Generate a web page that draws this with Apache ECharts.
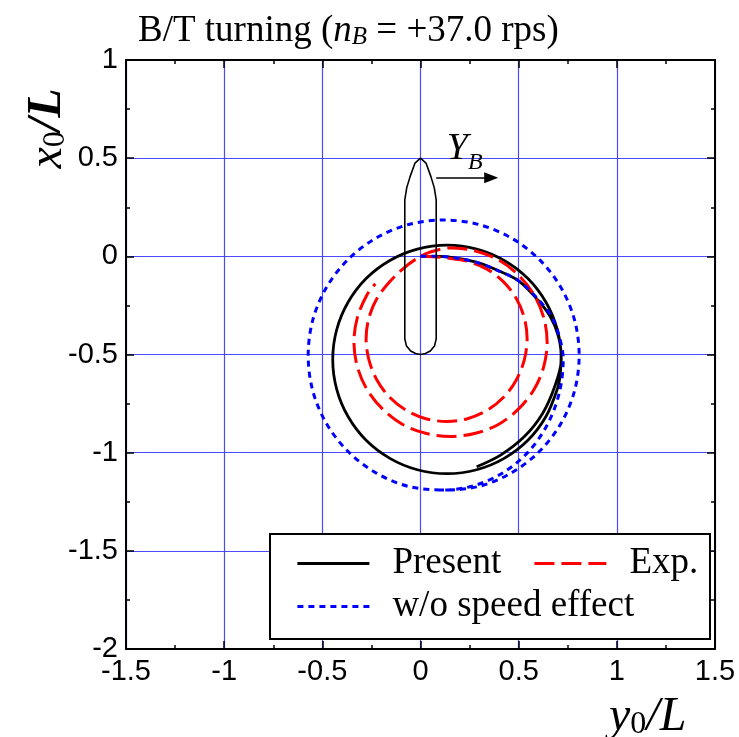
<!DOCTYPE html>
<html><head><meta charset="utf-8">
<style>html,body{margin:0;padding:0;background:#fff}#c{width:739px;height:737px}</style>
<script src="https://cdn.jsdelivr.net/npm/echarts@6/dist/echarts.min.js"></script>
</head><body><div id="c"></div>
<script>
const presentPath = [[0,0],[.1,0],[.2,-.012],[.3,-.035],[.4,-.075],[.5,-.125],[.6,-.225],[.66,-.306],[.7,-.4],[.716,-.5],[.712,-.6],[.697,-.676],[.639,-.816],[.547,-.937],[.426,-1.029],[.286,-1.087],[.135,-1.107],[-.016,-1.087],[-.156,-1.029],[-.277,-.937],[-.369,-.816],[-.427,-.676],[-.447,-.525],[-.427,-.374],[-.369,-.234],[-.277,-.113],[-.156,-.021],[-.016,.037],[.135,.057],[.286,.037],[.426,-.021],[.547,-.113],[.639,-.234],[.697,-.374],[.717,-.525],[.684,-.662],[.622,-.8],[.529,-.918],[.41,-1.011],[.286,-1.072]];
const expPath = [[0,0],[.06,-.002],[.133,-.008],[.239,-.025],[.338,-.065],[.423,-.13],[.488,-.215],[.529,-.314],[.543,-.42],[.529,-.526],[.488,-.63],[.423,-.718],[.338,-.785],[.239,-.827],[.133,-.841],[.027,-.827],[-.072,-.785],[-.157,-.718],[-.222,-.63],[-.263,-.526],[-.277,-.42],[-.263,-.314],[-.222,-.215],[-.157,-.13],[-.085,-.06],[-.02,-.012],[.05,.022],[.153,.043],[.28,.027],[.399,-.019],[.501,-.098],[.579,-.197],[.628,-.313],[.645,-.437],[.628,-.561],[.579,-.677],[.501,-.776],[.399,-.855],[.28,-.901],[.153,-.918],[.026,-.901],[-.093,-.855],[-.195,-.776],[-.273,-.677],[-.322,-.561],[-.339,-.437],[-.322,-.313],[-.273,-.197],[-.23,-.14]];
const noSpeedPath = [[0,0],[.1,0],[.2,-.012],[.3,-.035],[.4,-.075],[.5,-.125],[.6,-.22],[.67,-.31],[.71,-.42],[.727,-.527],[.706,-.699],[.645,-.859],[.549,-.996],[.422,-1.101],[.276,-1.167],[.118,-1.19],[-.061,-1.172],[-.227,-1.103],[-.37,-.993],[-.48,-.85],[-.549,-.684],[-.572,-.505],[-.549,-.326],[-.48,-.16],[-.37,-.017],[-.227,.093],[-.061,.162],[.118,.185],[.297,.162],[.463,.093],[.606,-.017],[.716,-.16],[.785,-.326],[.808,-.505],[.785,-.684],[.716,-.85],[.606,-.993],[.463,-1.103],[.297,-1.172],[.118,-1.19],[.065,-1.189]];
const hullOutline = [[0,.5],[-.028,.475],[-.053,.406],[-.07,.35],[-.08,.288],[-.08,-.42],[-.072,-.455],[-.05,-.482],[-.025,-.495],[0,-.5],[.025,-.495],[.05,-.482],[.072,-.455],[.08,-.42],[.08,.288],[.07,.35],[.053,.406],[.028,.475],[0,.5]];
const arrowFrom = [.08,.4], arrowTo = [.36,.4];
const seriesNames = ['Present','Exp.','w/o speed effect'];
const serif = '"Liberation Serif","Times New Roman",serif';
const sans = '"Liberation Sans",Arial,sans-serif';
const axisCommon = {type:'value',axisLine:{onZero:false,lineStyle:{color:'#000',width:2}},
  axisTick:{inside:true,length:8,lineStyle:{color:'#000',width:1.5}},
  minorTick:{show:true,splitNumber:2,length:4,lineStyle:{color:'#000',width:1.5}},
  minorSplitLine:{show:false}};
const lbl = {color:'#000',fontFamily:sans,fontSize:29,margin:8,showMinLabel:true,showMaxLabel:true,hideOverlap:false};
const grid = {show:true,lineStyle:{color:'#4a4aff',width:1.2}};
const xR = {min:-1.5,max:1.5,interval:.5}, yR = {min:-2,max:1,interval:.5};
const legendRow = (name,left,top)=>({data:[name],left,top,orient:'horizontal',itemWidth:72,itemHeight:20,itemGap:0,padding:0,selectedMode:false,
  itemStyle:{opacity:0},lineStyle:{width:2.8},
  textStyle:{fontFamily:serif,fontSize:37,color:'#000',padding:[0,0,0,18]}});
const chart = echarts.init(document.getElementById('c'),null,{renderer:'canvas'});
chart.setOption({animation:false,backgroundColor:'#fff',
  title:{left:138,top:13,padding:0,text:'B/T turning ({i|n}{s|B} = +37.0 rps)',
    textStyle:{fontFamily:serif,fontSize:37,fontWeight:'normal',color:'#000',
      rich:{i:{fontFamily:serif,fontSize:37,fontStyle:'italic',color:'#000'},
            s:{fontFamily:serif,fontSize:25,fontStyle:'italic',color:'#000',padding:[12,0,0,0]}}}},
  grid:{left:126,right:24,top:60,bottom:88,containLabel:false,outerBoundsMode:'none'},
  xAxis:[{...axisCommon,...xR,position:'bottom',axisLabel:lbl,splitLine:grid,
      name:'{i|y}{s|0}{i|/L}',nameLocation:'end',nameGap:-106,nameMoveOverlap:false,
      nameTextStyle:{align:'left',verticalAlign:'top',padding:[44,0,0,0],
        rich:{i:{fontFamily:serif,fontSize:48,fontStyle:'italic',color:'#000'},s:{fontFamily:serif,fontSize:32,color:'#000',padding:[16,0,0,0]}}}},
    {...axisCommon,...xR,position:'top',axisLabel:{show:false},splitLine:{show:false}}],
  yAxis:[{...axisCommon,...yR,position:'left',axisLabel:{...lbl,padding:[3,0,0,0]},splitLine:grid,
      name:'{i|x}{s|0}{b|/L}',nameLocation:'middle',nameGap:78,nameRotate:90,nameMoveOverlap:false,
      nameTextStyle:{align:'center',verticalAlign:'middle',padding:[0,0,0,452],
        rich:{i:{fontFamily:serif,fontSize:48,fontStyle:'italic',color:'#000'},b:{fontFamily:serif,fontSize:48,fontStyle:'italic',fontWeight:'bold',color:'#000'},s:{fontFamily:serif,fontSize:32,color:'#000',padding:[16,0,0,0]}}}},
    {...axisCommon,...yR,position:'right',axisLabel:{show:false},splitLine:{show:false}}],
  legend:[legendRow(seriesNames[0],296,545),legendRow(seriesNames[1],533,545),legendRow(seriesNames[2],296,588)],
  graphic:[{type:'rect',z:3,shape:{x:270,y:534,width:440,height:105},style:{fill:'#fff',stroke:'#000',lineWidth:2}}],
  series:[
    {name:seriesNames[0],type:'line',data:presentPath,smooth:.33,symbol:'none',lineStyle:{color:'#000',width:2.8},itemStyle:{color:'#000'},z:2},
    {name:seriesNames[1],type:'line',data:expPath,smooth:.33,symbol:'none',lineStyle:{color:'#ff0000',width:3,type:[20,7]},itemStyle:{color:'#ff0000'},z:2},
    {name:seriesNames[2],type:'line',data:noSpeedPath,smooth:.33,symbol:'none',lineStyle:{color:'#0000ff',width:3,type:[6,5]},itemStyle:{color:'#0000ff'},z:2},
    {name:'Hull',type:'line',data:hullOutline,smooth:false,symbol:'none',lineStyle:{color:'#000',width:1.6},z:2,
      markLine:{silent:true,symbol:['none','triangle'],symbolSize:[11,14],lineStyle:{color:'#000',width:1.5,type:'solid'},label:{show:false},
        data:[[{coord:arrowFrom},{coord:arrowTo}]]},
      markPoint:{silent:true,symbol:'circle',symbolSize:0,
        data:[{coord:[.225,.545],label:{show:true,position:'inside',formatter:'{i|Y}{s|B}',
          rich:{i:{fontFamily:serif,fontSize:38,fontStyle:'italic',color:'#000'},s:{fontFamily:serif,fontSize:24,fontStyle:'italic',color:'#000',padding:[26,0,0,0]}}}}]}}
  ]});
</script></body></html>
